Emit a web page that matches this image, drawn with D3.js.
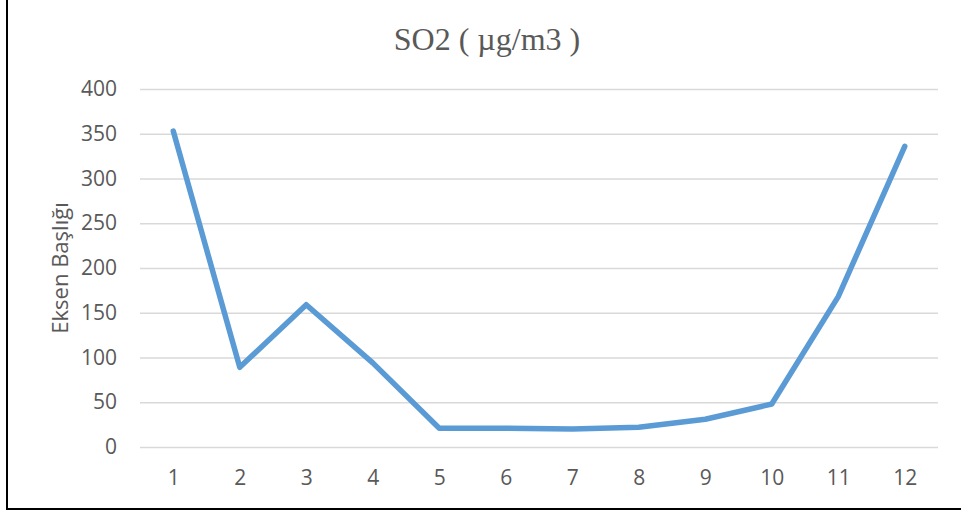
<!DOCTYPE html>
<html>
<head>
<meta charset="utf-8">
<script src="https://cdn.jsdelivr.net/npm/d3@7"></script>
<style>
  body { margin: 0; background: #fff; }
  .axis text { font-family: "Open Sans", sans-serif; font-size: 21px; fill: #595959; }
</style>
</head>
<body>
<svg id="chart" width="961" height="513"></svg>
<script>
// Data
var months = ["1", "2", "3", "4", "5", "6", "7", "8", "9", "10", "11", "12"];
var so2 = [353, 89, 159, 94, 21, 21, 20, 22, 31, 48, 168, 336];
var yTicks = [0, 50, 100, 150, 200, 250, 300, 350, 400];

var svg = d3.select("#chart");

// Plot area
var plotLeft = 140, plotRight = 938, plotTop = 89, plotBottom = 447;

var xScale = d3.scalePoint().domain(months).range([plotLeft, plotRight]).padding(0.5);
var yScale = d3.scaleLinear().domain([0, 400]).range([plotBottom, plotTop]);

// Chart border (only left and bottom edges are in view)
svg.append("rect")
    .attr("x", 7)
    .attr("y", -10)
    .attr("width", 1000)
    .attr("height", 519)
    .attr("fill", "none")
    .attr("stroke", "#000")
    .attr("stroke-width", 2);

// Title
svg.append("text")
    .attr("x", 487)
    .attr("y", 50)
    .attr("text-anchor", "middle")
    .style("font-family", "'Liberation Serif', 'Times New Roman', serif")
    .style("font-size", "32px")
    .style("fill", "#595959")
    .text("SO2 ( µg/m3 )");

// Y axis with gridlines
var yAxis = d3.axisLeft(yScale)
    .tickValues(yTicks)
    .tickSize(-(plotRight - plotLeft))
    .tickPadding(23);

var gy = svg.append("g")
    .attr("class", "axis")
    .attr("transform", "translate(" + plotLeft + ",0)")
    .call(yAxis);
gy.select(".domain").remove();
gy.selectAll("line").attr("stroke", "#d9d9d9").attr("stroke-width", 1.5);

// X axis
var xAxis = d3.axisBottom(xScale).tickSize(0).tickPadding(23);
var gx = svg.append("g")
    .attr("class", "axis")
    .attr("transform", "translate(0," + plotBottom + ")")
    .call(xAxis);
gx.select(".domain").remove();

// Y axis title
svg.append("text")
    .attr("transform", "translate(68," + ((plotTop + plotBottom) / 2) + ") rotate(-90)")
    .attr("text-anchor", "middle")
    .style("font-family", "'Open Sans', sans-serif")
    .style("font-size", "22px")
    .style("fill", "#595959")
    .text("Eksen Başlığı");

// Line
var line = d3.line()
    .x(function (d, i) { return xScale(months[i]); })
    .y(function (d) { return yScale(d); });

svg.append("path")
    .datum(so2)
    .attr("d", line)
    .attr("fill", "none")
    .attr("stroke", "#5B9BD5")
    .attr("stroke-width", 5.5)
    .attr("stroke-linejoin", "round")
    .attr("stroke-linecap", "round");
</script>
</body>
</html>
